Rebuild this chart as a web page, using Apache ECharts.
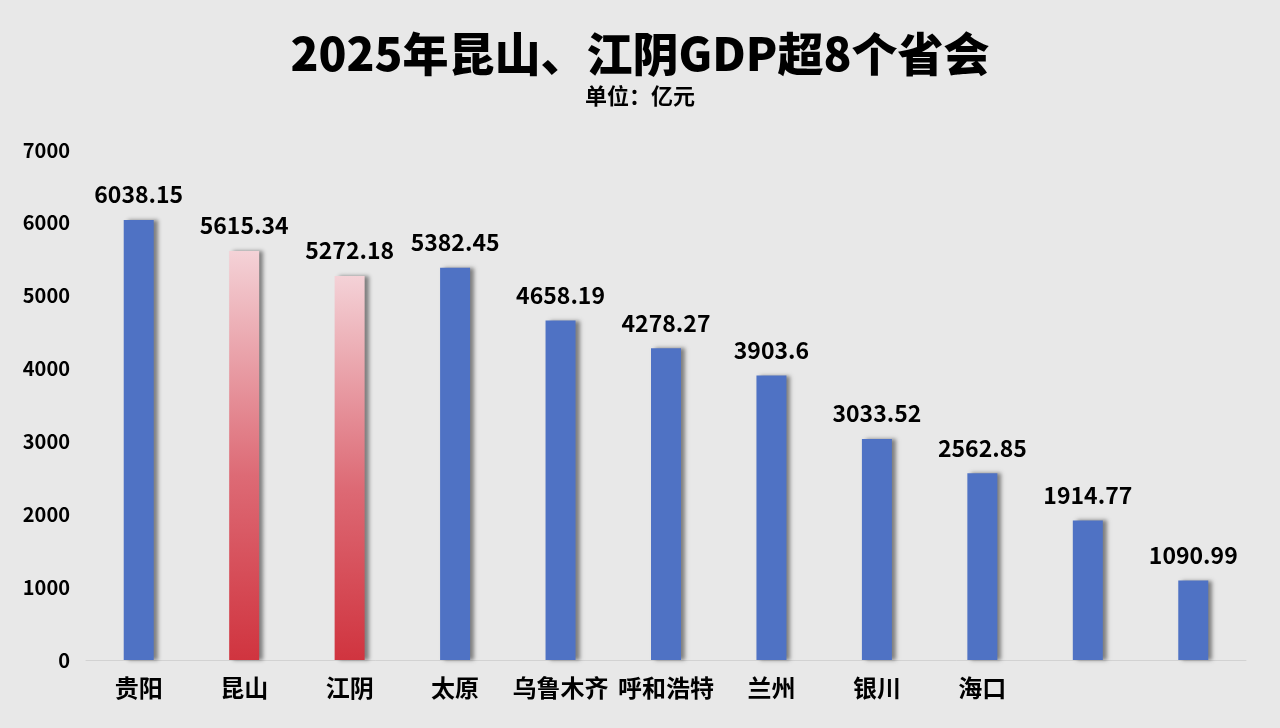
<!DOCTYPE html>
<html>
<head>
<meta charset="UTF-8">
<title>2025年昆山、江阴GDP超8个省会</title>
<script src="https://cdn.jsdelivr.net/npm/echarts@6/dist/echarts.min.js"></script>
<style>
  html, body { margin: 0; padding: 0; background: #e8e8e8; }
  #container { width: 1280px; height: 728px; }
</style>
</head>
<body>
<div id="container"></div>
<script type="text/javascript">
// 城市（最后两个标签在原图中被遮挡）
var cities = ['贵阳', '昆山', '江阴', '太原', '乌鲁木齐', '呼和浩特', '兰州', '银川', '海口', '', ''];
// GDP，单位：亿元
var gdp = [6038.15, 5615.34, 5272.18, 5382.45, 4658.19, 4278.27, 3903.6, 3033.52, 2562.85, 1914.77, 1090.99];
// 需要高亮的城市
var highlight = ['昆山', '江阴'];

var fontCN = '"Noto Sans CJK SC", "Microsoft YaHei", sans-serif';

var blueStyle = {
    color: '#4f72c4',
    shadowColor: 'rgba(0,0,0,0.45)',
    shadowBlur: 4,
    shadowOffsetX: 4,
    shadowOffsetY: 0
};
var redStyle = {
    color: new echarts.graphic.LinearGradient(0, 0, 0, 1, [
        {offset: 0, color: '#f4d2d7'},
        {offset: 0.55, color: '#dd6a75'},
        {offset: 1, color: '#d0343f'}
    ]),
    shadowColor: 'rgba(0,0,0,0.45)',
    shadowBlur: 4,
    shadowOffsetX: 4,
    shadowOffsetY: 0
};

var barData = gdp.map(function (v, i) {
    return {
        value: v,
        itemStyle: highlight.indexOf(cities[i]) >= 0 ? redStyle : blueStyle
    };
});

var myChart = echarts.init(document.getElementById('container'));
var option = {
    backgroundColor: '#e8e8e8',
    animation: false,
    title: {
        text: '2025年昆山、江阴GDP超8个省会',
        subtext: '单位：亿元',
        left: 'center',
        top: 26,
        itemGap: 8,
        textStyle: {
            fontFamily: fontCN,
            fontSize: 46,
            fontWeight: 900,
            color: '#000'
        },
        subtextStyle: {
            fontFamily: fontCN,
            fontSize: 22,
            fontWeight: 'bold',
            color: '#000'
        }
    },
    grid: {
        left: 86,
        right: 34,
        top: 150,
        bottom: 68
    },
    xAxis: {
        type: 'category',
        data: cities,
        axisLine: {lineStyle: {color: '#d2d2d2', width: 1}},
        axisTick: {show: false},
        axisLabel: {
            interval: 0,
            margin: 16,
            fontFamily: fontCN,
            fontSize: 24,
            fontWeight: 'bold',
            color: '#000'
        }
    },
    yAxis: {
        type: 'value',
        min: 0,
        max: 7000,
        interval: 1000,
        axisLine: {show: false},
        axisTick: {show: false},
        splitLine: {show: false},
        axisLabel: {
            margin: 16,
            fontFamily: fontCN,
            fontSize: 20,
            fontWeight: 'bold',
            color: '#000',
            formatter: function (v) { return String(v); }
        }
    },
    series: [
        {
            type: 'bar',
            data: barData,
            barWidth: 30,
            label: {
                show: true,
                position: 'top',
                distance: 14,
                fontFamily: fontCN,
                fontSize: 23,
                fontWeight: 'bold',
                color: '#000'
            }
        }
    ]
};
myChart.setOption(option, true);
</script>
</body>
</html>
